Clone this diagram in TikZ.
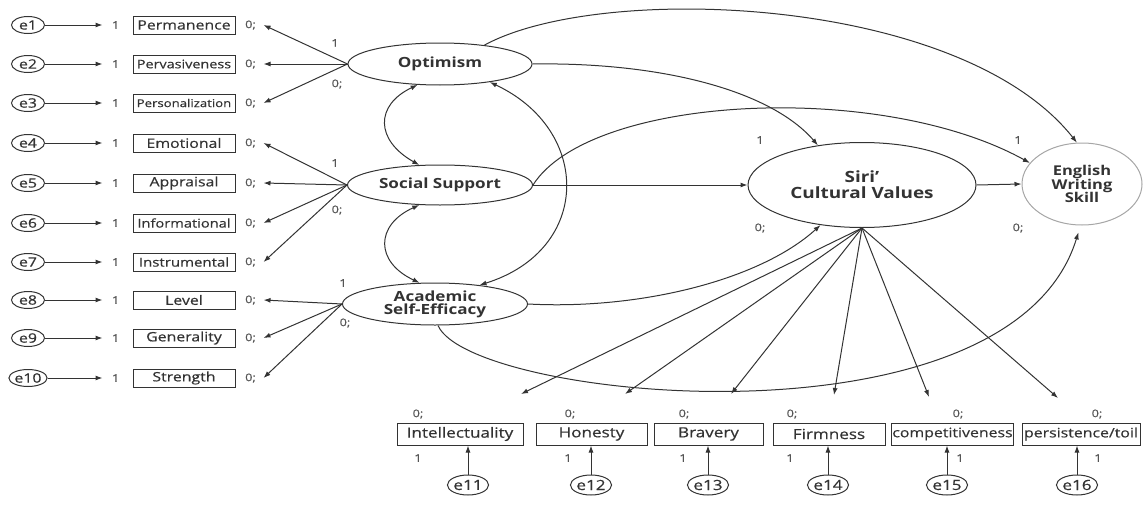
\documentclass[tikz,border=0pt]{standalone}
\usepackage{fontspec}
\setmainfont{Open Sans}[FakeStretch=1.22,UprightFeatures={FakeBold=0.5}]
\usetikzlibrary{arrows.meta,shapes.geometric}
\definecolor{ink}{HTML}{333333}
\definecolor{soft}{HTML}{555555}
\newcommand{\fsz}[2]{\fontsize{#1}{#2}\selectfont}

\begin{document}
\begin{tikzpicture}[x=1pt,y=-1pt,line width=1pt,color=ink,
  obsbox/.style={draw,rectangle,minimum width=102pt,minimum height=18pt,inner sep=1pt,font=\fsz{13}{15}},
  subbox/.style={draw,rectangle,minimum height=22pt,inner sep=1pt,font=\fsz{14}{16}},
  errnode/.style={draw,ellipse,minimum width=33pt,minimum height=17pt,inner sep=0pt,font=\fsz{13}{15}},
  errlow/.style={errnode,minimum width=40pt,minimum height=20pt,font=\fsz{14}{15}},
  latent/.style={draw,ellipse,inner sep=0pt,align=center,font=\bfseries\fsz{14}{13}},
  est/.style={inner sep=0pt,text=soft,font=\fsz{10.5}{12}},
  regarrow/.style={-{Latex[length=7pt,width=5pt]}},
  covarrow/.style={{Latex[length=7pt,width=5pt]}-{Latex[length=7pt,width=5pt]}}]
  \useasboundingbox (0,0) rectangle (1145,506);
  % latent variables
  \node[latent,minimum width=184pt,minimum height=42pt] (opt) at (440,64) {Optimism};
  \node[latent,minimum width=185pt,minimum height=40pt] (soc) at (440,185) {Social Support};
  \node[latent,minimum width=185pt,minimum height=42pt] (ase) at (435,304) {Academic\\Self-Efficacy};
  \node[latent,minimum width=228pt,minimum height=85pt,font=\bfseries\fsz{15.5}{16}] (siri) at (862,185) {Siri’\\Cultural Values};
  \node[latent,minimum width=120pt,minimum height=82pt,draw=gray!70,font=\bfseries\fsz{13.5}{13.5}] (ews) at (1082,184) {English\\Writing\\Skill};
  \node[est] (ko) at (335,43) {1};
  \node[est] (zo) at (337,84) {0;};
  \node[est] (ks) at (335,163) {1};
  \node[est] (zs) at (337,210) {0;};
  \node[est] (ka) at (343,283) {1};
  \node[est] (za) at (345,323) {0;};
  \node[est] (kc) at (760,140) {1};
  \node[est] (zc) at (760,228) {0;};
  \node[est] (kw) at (1018,140) {1};
  \node[est] (zw) at (1018,228) {0;};

  % optimism indicators
  \node[errnode] (e1) at (28,25) {e1};
  \node[obsbox] (p1) at (184,25) {Permanence};
  \node[errnode] (e2) at (28,64) {e2};
  \node[obsbox,font=\fsz{11.8}{14}] (p2) at (184,64) {Pervasiveness};
  \node[errnode] (e3) at (28,103) {e3};
  \node[obsbox,font=\fsz{10.8}{13}] (p3) at (184,103) {Personalization};
  % social support indicators
  \node[errnode] (e4) at (28,143) {e4};
  \node[obsbox] (p4) at (184,143) {Emotional};
  \node[errnode] (e5) at (28,183) {e5};
  \node[obsbox] (p5) at (184,183) {Appraisal};
  \node[errnode] (e6) at (28,223) {e6};
  \node[obsbox,font=\fsz{12}{14}] (p6) at (184,223) {Informational};
  \node[errnode] (e7) at (28,262) {e7};
  \node[obsbox,font=\fsz{12.3}{14}] (p7) at (184,262) {Instrumental};
  % self-efficacy indicators
  \node[errnode] (e8) at (28,300) {e8};
  \node[obsbox] (p8) at (184,300) {Level};
  \node[errnode] (e9) at (28,338) {e9};
  \node[obsbox] (p9) at (184,338) {Generality};
  \node[errnode] (e10) at (28,378) {e10};
  \node[obsbox] (p10) at (184,378) {Strength};

  \draw[regarrow] (e1) -- ([xshift=-30pt]p1.west) node[est,right=9pt] (w1) {1};
  \draw[regarrow] (e2) -- ([xshift=-30pt]p2.west) node[est,right=9pt] (w2) {1};
  \draw[regarrow] (e3) -- ([xshift=-30pt]p3.west) node[est,right=9pt] (w3) {1};
  \draw[regarrow] (e4) -- ([xshift=-30pt]p4.west) node[est,right=9pt] (w4) {1};
  \draw[regarrow] (e5) -- ([xshift=-30pt]p5.west) node[est,right=9pt] (w5) {1};
  \draw[regarrow] (e6) -- ([xshift=-30pt]p6.west) node[est,right=9pt] (w6) {1};
  \draw[regarrow] (e7) -- ([xshift=-30pt]p7.west) node[est,right=9pt] (w7) {1};
  \draw[regarrow] (e8) -- ([xshift=-30pt]p8.west) node[est,right=9pt] (w8) {1};
  \draw[regarrow] (e9) -- ([xshift=-30pt]p9.west) node[est,right=9pt] (w9) {1};
  \draw[regarrow] (e10) -- ([xshift=-30pt]p10.west) node[est,right=9pt] (w10) {1};

  \draw[regarrow] (opt.west) -- ([xshift=28pt]p1.east) node[est,pos=1,xshift=-13pt] (z1) {0;};
  \draw[regarrow] (opt.west) -- ([xshift=28pt]p2.east) node[est,pos=1,xshift=-13pt] (z2) {0;};
  \draw[regarrow] (opt.west) -- ([xshift=28pt]p3.east) node[est,pos=1,xshift=-13pt] (z3) {0;};
  \draw[regarrow] (soc.west) -- ([xshift=28pt]p4.east) node[est,pos=1,xshift=-13pt] (z4) {0;};
  \draw[regarrow] (soc.west) -- ([xshift=28pt]p5.east) node[est,pos=1,xshift=-13pt] (z5) {0;};
  \draw[regarrow] (soc.west) -- ([xshift=28pt]p6.east) node[est,pos=1,xshift=-13pt] (z6) {0;};
  \draw[regarrow] (soc.west) -- ([xshift=28pt]p7.east) node[est,pos=1,xshift=-13pt] (z7) {0;};
  \draw[regarrow] (ase.west) -- ([xshift=28pt]p8.east) node[est,pos=1,xshift=-13pt] (z8) {0;};
  \draw[regarrow] (ase.west) -- ([xshift=28pt]p9.east) node[est,pos=1,xshift=-13pt] (z9) {0;};
  \draw[regarrow] (ase.west) -- ([xshift=28pt]p10.east) node[est,pos=1,xshift=-13pt] (z10) {0;};

  % structural paths
  \draw[regarrow] (opt.23) .. controls (600,-18) and (960,-5) .. (ews.97);
  \draw[regarrow] (opt.east) .. controls (660,62) and (770,90) .. (siri.138);
  \draw[regarrow] (soc.east) .. controls (590,95) and (880,80) .. (ews.158);
  \draw[regarrow] (soc.east) -- (siri.west);
  \draw[regarrow] (siri.east) -- (ews.west);
  \draw[regarrow] (ase.east) .. controls (640,310) and (760,280) .. (siri.224);
  \draw[regarrow] (ase.278) .. controls (470,400) and (1010,455) .. ([yshift=-7pt]ews.265);
  \draw[covarrow] (opt.223) .. controls (375,105) and (375,140) .. (soc.136);
  \draw[covarrow] (soc.224) .. controls (375,225) and (375,262) .. (ase.126);
  \draw[covarrow] (opt.-20) .. controls (592,130) and (592,250) .. (ase.23);

  % siri' dimensions
  \node[subbox,minimum width=126pt] (s1) at (460,434) {Intellectuality};
  \node[subbox,minimum width=111pt] (s2) at (591.5,434) {Honesty};
  \node[subbox,minimum width=109pt] (s3) at (708.5,434) {Bravery};
  \node[subbox,minimum width=112pt] (s4) at (829,434) {Firmness};
  \node[subbox,minimum width=121pt,font=\fsz{13}{15}] (s5) at (952.5,434) {competitiveness};
  \node[subbox,minimum width=118pt,font=\fsz{13}{15}] (s6) at (1081,434) {persistence/toil};
  \node[errlow] (e11) at (468,485) {e11};
  \node[errlow] (e12) at (591,485) {e12};
  \node[errlow] (e13) at (708,485) {e13};
  \node[errlow] (e14) at (828,485) {e14};
  \node[errlow] (e15) at (947,485) {e15};
  \node[errlow] (e16) at (1077,485) {e16};
  \draw[regarrow] (e11) -- (e11 |- s1.south);
  \draw[regarrow] (e12) -- (e12 |- s2.south);
  \draw[regarrow] (e13) -- (e13 |- s3.south);
  \draw[regarrow] (e14) -- (e14 |- s4.south);
  \draw[regarrow] (e15) -- (e15 |- s5.south);
  \draw[regarrow] (e16) -- (e16 |- s6.south);
  \node[est] (k11) at (418,458) {1};
  \node[est] (k12) at (568,458) {1};
  \node[est] (k13) at (683,458) {1};
  \node[est] (k14) at (790,458) {1};
  \node[est] (k15) at (960,458) {1};
  \node[est] (k16) at (1098,458) {1};
  \node[est] (z11) at (418,414) {0;};
  \node[est] (z12) at (570,414) {0;};
  \node[est] (z13) at (684,414) {0;};
  \node[est] (z14) at (792,414) {0;};
  \node[est] (z15) at (958,414) {0;};
  \node[est] (z16) at (1097,414) {0;};
  \coordinate (t1) at (521,394);
  \coordinate (t2) at (625,394);
  \coordinate (t3) at (731,394);
  \coordinate (t4) at (834,395);
  \coordinate (t5) at (929,397);
  \coordinate (t6) at (1058,398);
  \draw[regarrow] (siri.south) -- (t1);
  \draw[regarrow] (siri.south) -- (t2);
  \draw[regarrow] (siri.south) -- (t3);
  \draw[regarrow] (siri.south) -- (t4);
  \draw[regarrow] (siri.south) -- (t5);
  \draw[regarrow] (siri.south) -- (t6);
\end{tikzpicture}
\end{document}
